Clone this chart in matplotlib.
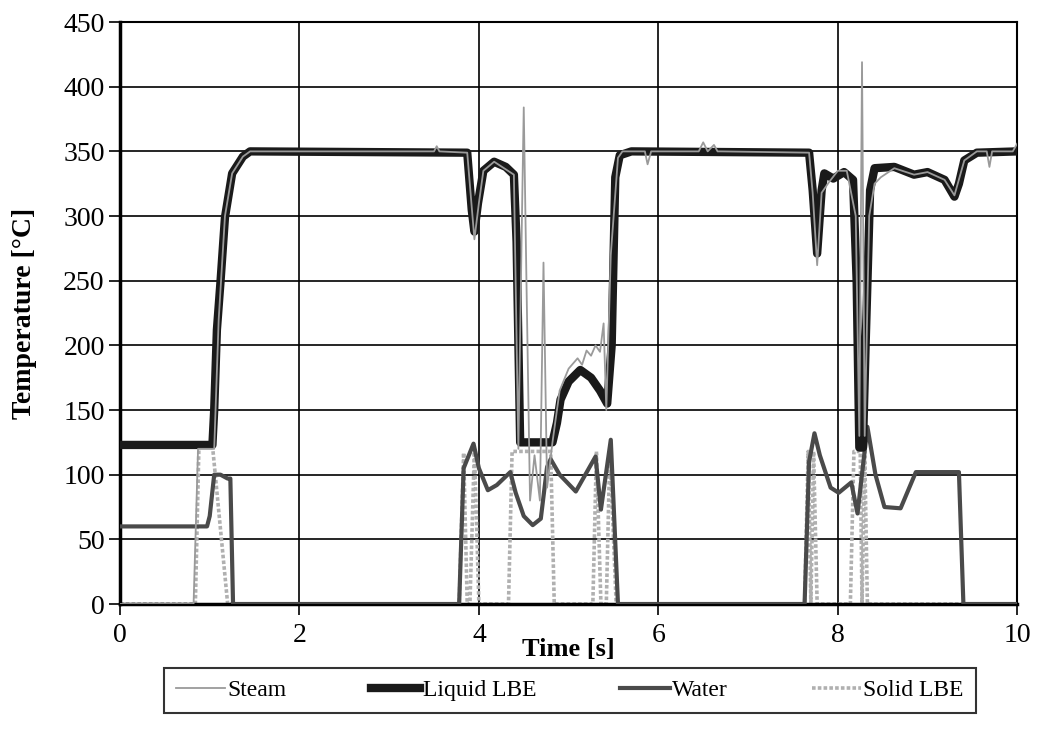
import matplotlib
matplotlib.use("Agg")
import matplotlib.pyplot as plt

plt.rcParams['font.family'] = ['Liberation Serif', 'DejaVu Serif']

# ---- data (time [s], temperature [°C]) ----
liquid_t = [0, 1.03, 1.05, 1.08, 1.12, 1.17, 1.25, 1.37, 1.45, 3.87, 3.92, 3.95, 3.99, 4.05,
            4.17, 4.3, 4.39, 4.42, 4.46, 4.82, 4.87, 4.91, 5.0, 5.13, 5.25, 5.35, 5.43, 5.48,
            5.52, 5.57, 5.7, 7.68, 7.72, 7.77, 7.82, 7.85, 7.95, 8.07, 8.17, 8.21, 8.24, 8.28,
            8.31, 8.36, 8.41, 8.63, 8.85, 9.0, 9.19, 9.3, 9.35, 9.41, 9.55, 10]
liquid_T = [123, 123, 150, 212, 249, 299, 333, 346, 350, 349, 305, 288, 310, 335,
            342, 338, 332, 280, 125, 125, 140, 158, 172, 181, 175, 165, 155, 200,
            330, 347, 350, 349, 320, 271, 320, 333, 329, 334, 328, 250, 121, 121,
            200, 320, 337, 338, 332, 334, 328, 315, 325, 343, 349, 350]

water_t = [0, 0.97, 1.0, 1.05, 1.12, 1.2, 1.23, 1.26, 3.78, 3.83, 3.94, 4.0, 4.1, 4.2,
           4.35, 4.41, 4.5, 4.6, 4.69, 4.76, 4.8, 4.9, 5.08, 5.3, 5.36, 5.47, 5.55, 7.63,
           7.68, 7.74, 7.8, 7.92, 8.01, 8.15, 8.22, 8.33, 8.42, 8.52, 8.7, 8.87, 9.35, 9.4, 10]
water_T = [60, 60, 68, 100, 100, 97, 97, 0, 0, 105, 124, 105, 88, 92,
           102, 86, 68, 61, 66, 106, 112, 100, 87, 114, 73, 127, 0, 0,
           110, 132, 115, 90, 86, 94, 70, 137, 100, 75, 74, 102, 102, 0, 0]

steam_t = [0, 0.82, 0.87, 1.05, 1.1, 1.17, 1.25, 1.37, 1.45, 3.5, 3.53, 3.56, 3.87, 3.95,
           4.0, 4.05, 4.17, 4.39, 4.44, 4.48, 4.5, 4.53, 4.57, 4.62, 4.68, 4.72, 4.76, 4.82,
           4.9, 5.0, 5.1, 5.15, 5.2, 5.25, 5.3, 5.35, 5.39, 5.42, 5.47, 5.55, 5.6, 5.85,
           5.88, 5.92, 6.45, 6.5, 6.55, 6.62, 6.66, 6.7, 7.68, 7.72, 7.77, 7.82, 7.9, 8.0,
           8.1, 8.2, 8.24, 8.27, 8.3, 8.35, 8.41, 8.48, 8.63, 8.85, 9.0, 9.19, 9.3, 9.41,
           9.55, 9.66, 9.69, 9.72, 9.95, 10]
steam_T = [0, 0, 120, 120, 220, 300, 333, 346, 350, 350, 354, 350, 349, 282,
           310, 335, 342, 332, 120, 300, 384, 250, 80, 115, 80, 264, 90, 125,
           165, 182, 190, 185, 196, 192, 200, 195, 217, 150, 270, 345, 350, 350,
           340, 350, 350, 357, 350, 355, 350, 350, 349, 318, 262, 318, 326, 335,
           335, 300, 130, 419, 130, 300, 325, 330, 337, 332, 334, 328, 316, 343,
           350, 350, 338, 350, 350, 356]

solid_t = [0, 0.84, 0.88, 1.03, 1.2, 3.78, 3.83, 3.87, 3.9, 3.95, 4.0, 4.33, 4.37, 4.8,
           4.84, 5.27, 5.31, 5.36, 5.42, 5.46, 5.53, 7.63, 7.67, 7.7, 7.73, 7.77, 8.14,
           8.18, 8.25, 8.27, 8.3, 8.33, 10]
solid_T = [0, 0, 123, 123, 0, 0, 117, 0, 0, 120, 0, 0, 118, 118,
           0, 0, 118, 0, 0, 120, 0, 0, 118, 0, 118, 0, 0,
           118, 118, 0, 118, 0, 0]

x_ticks = [0, 2, 4, 6, 8, 10]
y_ticks = [0, 50, 100, 150, 200, 250, 300, 350, 400, 450]

fig = plt.figure(figsize=(10.38, 7.48), dpi=100)
ax = fig.add_axes([0.1156, 0.1925, 0.8644, 0.778])

ax.plot(solid_t, solid_T, color='#b0b0b0', lw=2.6, ls=(0, (1, 0.6)), label='Solid LBE', zorder=2)
ax.plot(water_t, water_T, color='#4a4a4a', lw=3.0, label='Water', zorder=3)
ax.plot(liquid_t, liquid_T, color='#1a1a1a', lw=6, label='Liquid LBE', zorder=4)
ax.plot(steam_t, steam_T, color='#9a9a9a', lw=1.3, label='Steam', zorder=5)

ax.set_xlim(0, 10)
ax.set_ylim(0, 450)
ax.set_xticks(x_ticks)
ax.set_yticks(y_ticks)
ax.grid(True, color='black', lw=1.2)
ax.set_axisbelow(True)
for s in ax.spines.values():
    s.set_color('black')
    s.set_linewidth(1.5)
ax.spines['left'].set_linewidth(2.5)
ax.spines['bottom'].set_linewidth(2.5)
ax.tick_params(direction='out', length=8, width=1.2, labelsize=20, colors='black')
ax.tick_params(axis='x', pad=6)
ax.tick_params(axis='y', pad=3)

ax.set_xlabel('Time [s]', fontsize=19, fontweight='bold')
ax.xaxis.set_label_coords(0.5, -0.058)
ax.set_ylabel('Temperature [°C]', fontsize=20, fontweight='bold')
ax.yaxis.set_label_coords(-0.092, 0.5)

handles, labels = ax.get_legend_handles_labels()
order = [labels.index(n) for n in ['Steam', 'Liquid LBE', 'Water', 'Solid LBE']]
leg = fig.legend([handles[i] for i in order], [labels[i] for i in order],
                 loc='center', bbox_to_anchor=(0.549, 0.077), ncol=4, fontsize=17,
                 frameon=True, fancybox=False, edgecolor='black', handlelength=2.1,
                 handletextpad=0.1, columnspacing=3.55, borderpad=0.5, borderaxespad=0)
leg.get_frame().set_linewidth(1.5)

fig.savefig('out.png', dpi=100)
